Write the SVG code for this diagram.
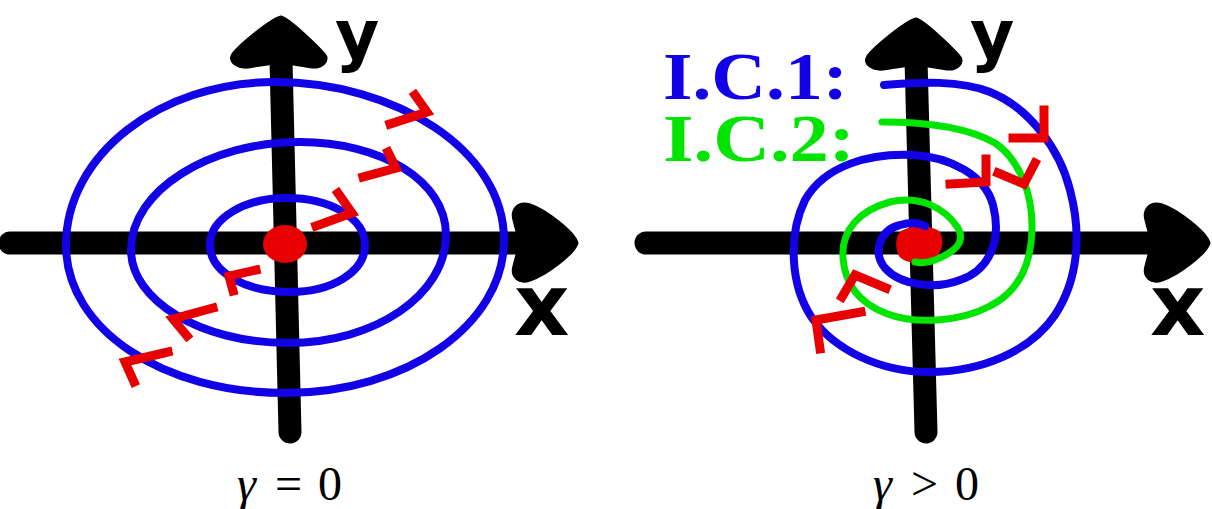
<svg xmlns="http://www.w3.org/2000/svg" width="1212" height="509" viewBox="0 0 1212 509">
<style>
.axis{stroke:#000;stroke-width:23;stroke-linecap:round;fill:none}
.head{fill:#000;stroke:#000;stroke-width:3;stroke-linejoin:round}
.blue{stroke:#1200e6;stroke-width:8;fill:none;stroke-linecap:round;stroke-linejoin:round}
.green{stroke:#00e400;stroke-width:7;fill:none;stroke-linecap:round;stroke-linejoin:round}
.red{stroke:#e80000;stroke-width:9;fill:none;stroke-linecap:square;stroke-linejoin:miter}
.dot{fill:#e80000}
.lab{font-family:"DejaVu Sans",sans-serif;font-weight:bold;fill:#000}
.ic{font-family:"Liberation Serif",serif;font-weight:bold;font-size:68px}
.gam{font-family:"Liberation Serif",serif;font-size:48px;fill:#000}
</style>
<defs>
<path id="vhead" d="M281,17 C270,20 240,45 233,54 C228,62 238,68 248,67 L281,62 L312,67 C322,68 330,60 324,54 C315,44 290,20 281,17 Z"/>
<path id="hhead" d="M577,243 C574,232 545,210 530,205 C518,201 511,210 514,220 L520,243 L514,266 C511,276 518,284 530,280 C545,275 574,254 577,243 Z"/>
</defs>
<rect width="1212" height="509" fill="#fff"/>

<g id="left-panel">
  <g id="left-axes">
    <line class="axis" x1="10" y1="243" x2="522" y2="243"/>
    <line class="axis" x1="281" y1="60" x2="290" y2="432"/>
    <use href="#vhead" class="head"/>
    <use href="#hhead" class="head"/>
    <text class="lab" x="335" y="58" font-size="68">y</text>
    <text class="lab" x="514" y="335" font-size="86">x</text>
  </g>
  <g id="left-orbits">
    <path class="blue" d="M504,240 C504,325 406,393 285,393 C164,393 66,330 66,245 C66,155 160,82 275,82 C395,82 504,150 504,240 Z"/>
    <path class="blue" d="M446,235 C446,295 375,343 288,343 C200,343 131,300 131,250 C131,190 210,142 300,142 C380,142 446,180 446,235 Z"/>
    <path class="blue" d="M365,245 C365,272 332,292 290,292 C245,292 210,272 210,245 C210,218 245,198 287,198 C330,198 365,218 365,245 Z"/>
  </g>
  <ellipse id="left-fixed-point" class="dot" cx="285" cy="244" rx="22" ry="19"/>
  <g id="left-arrows">
    <polyline class="red" points="415,95 427,112 390,124"/>
    <polyline class="red" points="388,152 396,168 363,177"/>
    <polyline class="red" points="338,193 352,213 316,226"/>
    <polyline class="red" points="256,270 229,276 233,291"/>
    <polyline class="red" points="213,308 173,319 187,336"/>
    <polyline class="red" points="168,352 125,362 134,382"/>
  </g>
  <text id="left-caption" class="gam" y="500"><tspan x="237" font-style="italic">γ</tspan><tspan x="275">=</tspan><tspan x="318">0</tspan></text>
</g>

<g id="right-panel">
  <g id="right-axes">
    <line class="axis" x1="646" y1="243" x2="1156" y2="243"/>
    <line class="axis" x1="916" y1="60" x2="926" y2="432"/>
    <use href="#vhead" class="head" transform="translate(635,2)"/>
    <use href="#hhead" class="head" transform="translate(632,0)"/>
    <text class="lab" x="970" y="58" font-size="68">y</text>
    <text class="lab" x="1150" y="335" font-size="86">x</text>
  </g>
  <text id="ic1" class="ic" x="663" y="99" fill="#1200e6" textLength="185" lengthAdjust="spacingAndGlyphs">I.C.1:</text>
  <text id="ic2" class="ic" x="663" y="161" fill="#00e400" textLength="192" lengthAdjust="spacingAndGlyphs">I.C.2:</text>
  <path id="right-fixed-point" class="dot" d="M900,232 C910,225 930,224 940,232 C945,242 942,255 932,260 C920,264 905,264 899,256 C895,248 895,238 900,232 Z"/>
  <path id="ic1-orbit" class="blue" d="M884,85 C920,82 960,80 990,92 C1030,108 1060,150 1070,190 C1082,235 1078,280 1055,315 C1030,352 980,372 929,372 C880,372 835,350 812,318 C790,285 788,235 805,200 C825,165 870,153 913,155 C950,157 985,175 993,205 C1002,240 990,270 960,280 C935,290 900,285 885,268 C872,252 880,230 900,225 C910,222 918,222 925,226"/>
  <path id="ic2-orbit" class="green" d="M882,122 C920,122 965,126 995,143 C1020,160 1033,195 1032,230 C1031,265 1018,292 990,306 C960,322 915,325 885,313 C860,303 845,285 843,258 C841,230 860,210 890,202 C920,195 945,208 958,228 C966,242 955,252 935,260 C928,263 920,263 915,262"/>
  <g id="right-arrows">
    <polyline class="red" points="1044,110 1044,138 1013,138"/>
    <polyline class="red" points="986,159 986,182 950,184"/>
    <polyline class="red" points="998,173 1024,184 1035,163"/>
    <polyline class="red" points="886,288 855,275 842,297"/>
    <polyline class="red" points="861,312 816,320 820,349"/>
  </g>
  <text id="right-caption" class="gam" y="500"><tspan x="873" font-style="italic">γ</tspan><tspan x="911">&gt;</tspan><tspan x="955">0</tspan></text>
</g>
</svg>
